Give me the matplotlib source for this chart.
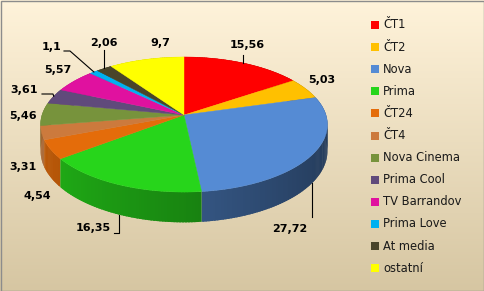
import numpy as np
import matplotlib
matplotlib.use("Agg")
import matplotlib.pyplot as plt
from matplotlib.patches import Polygon, Rectangle
from matplotlib.colors import to_rgb

# data
channels = ["ČT1", "ČT2", "Nova", "Prima", "ČT24", "ČT4", "Nova Cinema",
            "Prima Cool", "TV Barrandov", "Prima Love", "At media", "ostatní"]
shares = [15.56, 5.03, 27.72, 16.35, 4.54, 3.31, 5.46, 3.61, 5.57, 1.1, 2.06, 9.7]
share_labels = ["15,56", "5,03", "27,72", "16,35", "4,54", "3,31", "5,46",
                "3,61", "5,57", "1,1", "2,06", "9,7"]
colors = ["#FF0000", "#FFC000", "#558BD4", "#27D51B", "#E46C0A", "#CC7A3D",
          "#77933C", "#604A7B", "#E0119F", "#00B0F0", "#4A452A", "#FFFF00"]

# layout (pixels)
W, H = 485, 291
cx, cy = 184, 115
rx, ry = 142, 66.2
persp = 0.141
thick = 26
label_pos = [(247, 45), (322, 80), (290, 229), (93, 228), (37, 196), (23, 167),
             (23, 116), (24, 90), (58, 70), (52, 47), (104, 43), (160, 43)]
# leader line points after the anchor on the pie; x=None keeps the anchor's x
leaders = {0: [(None, 55)], 2: [(None, 217)], 3: [(None, 233), (114, 233)],
           7: [(53, 94), (42, 94)], 9: [(70, 51), (64, 51)], 10: [(None, 50)]}


def proj(phi, h=0.0, r=1.0):
    u = r * np.sin(phi)
    v = -r * np.cos(phi)
    s = 1.0 / (1.0 - persp * v)
    return cx + rx * u * s, cy + (ry * v + thick * h) * s


fig = plt.figure(figsize=(W / 100, H / 100), dpi=100)
ax = fig.add_axes([0, 0, 1, 1])
ax.set_xlim(0, W)
ax.set_ylim(H, 0)
ax.axis("off")

# background gradient
top = np.array(to_rgb("#FFF3DA"))
bot = np.array(to_rgb("#D6C6A2"))
t = np.linspace(0, 1, 200)[:, None]
grad = top + (bot - top) * t
ax.imshow(grad[:, None, :].repeat(2, axis=1), extent=(0, W, H, 0), aspect="auto", zorder=0)
ax.add_patch(Rectangle((0.5, 0.5), W - 1, H - 1, fill=False, ec="#8C8C8C", lw=1, zorder=10))

bounds = np.concatenate([[0], np.cumsum(shares)]) / sum(shares) * 2 * np.pi

# side walls, drawn back to front in thin overlapping strips
segs = []
for i in range(len(shares)):
    a0, a1 = bounds[i], bounds[i + 1]
    n = max(2, int(np.degrees(a1 - a0) / 1.0))
    edges = np.linspace(a0, a1, n + 1)
    for p0, p1 in zip(edges[:-1], edges[1:]):
        pm = (p0 + p1) / 2
        segs.append((-np.cos(pm), i, p0, min(p1 + 0.012, a1)))
segs.sort()
for v, i, p0, p1 in segs:
    ph = np.linspace(p0, p1, 3)
    pts = [proj(p) for p in ph] + [proj(p, 1) for p in ph[::-1]]
    u = np.sin((p0 + p1) / 2)
    f = np.clip(0.63 - 0.2 * u, 0.4, 0.85)
    c = np.array(to_rgb(colors[i])) * f
    ax.add_patch(Polygon(pts, closed=True, fc=c, ec="none", zorder=2))

# top faces
for i in range(len(shares)):
    ph = np.linspace(bounds[i], bounds[i + 1], 60)
    pts = [(cx, cy)] + [proj(p) for p in ph]
    ax.add_patch(Polygon(pts, closed=True, fc=colors[i], ec=colors[i], lw=0.3, zorder=3))

# data labels with leader lines
for i, lab in enumerate(share_labels):
    x, y = label_pos[i]
    ax.text(x, y, lab, ha="center", va="center", fontsize=8, fontweight="bold",
            color="black", zorder=6)
    if i in leaders:
        mid = (bounds[i] + bounds[i + 1]) / 2
        h = 1 if -np.cos(mid) > 0.3 else 0
        ax0, ay0 = proj(mid, h)
        path = [(ax0, ay0)] + [(ax0 if px is None else px, py) for px, py in leaders[i]]
        xs, ys = zip(*path)
        ax.plot(xs, ys, color="black", lw=0.8, zorder=5)

# legend
for i, name in enumerate(channels):
    y = 25 + i * 22.1
    ax.add_patch(Rectangle((371, y - 4), 8, 8, fc=colors[i], ec="none", zorder=6))
    ax.text(383, y, name, ha="left", va="center", fontsize=8.3, color="#1A1A1A", zorder=6)

fig.savefig("out.png", dpi=100)
